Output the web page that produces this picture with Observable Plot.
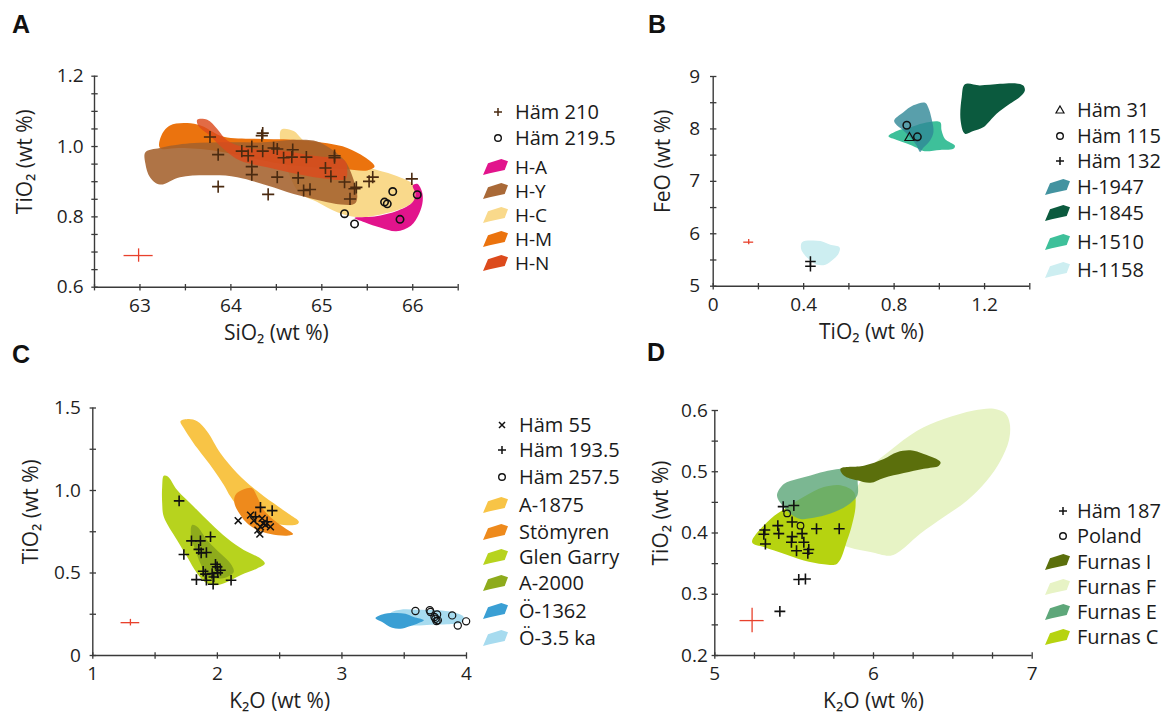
<!DOCTYPE html>
<html><head><meta charset="utf-8">
<script src="https://cdn.jsdelivr.net/npm/d3@7"></script>
<script src="https://cdn.jsdelivr.net/npm/@observablehq/plot@0.6"></script>
<style>
body{margin:0;background:#fff;}
#fig{position:relative;width:1167px;height:718px;font-family:"Open Sans",sans-serif;color:#1a1a1a;overflow:hidden;background:#fff}
.panel{position:absolute}
.letter{position:absolute;font:bold 25px "Liberation Sans",Arial,sans-serif;line-height:24px;color:#111}
.row{position:absolute;height:20px;display:flex;align-items:center;font-size:20px;line-height:20px;white-space:nowrap}
.row.tight{font-size:19px}
.row svg{flex:none}
.row span{display:inline-block;height:20px;line-height:20px;overflow:visible}
</style></head><body><div id="fig"></div>
<script>
// ---------------- DATA ----------------
// Panel A : SiO2 vs TiO2
const hamA210 = [[63.77,1.027],[64.35,1.038],[64.34,1.031],[63.86,0.977],[64.12,0.987],[64.19,0.974],[64.23,1.000],[64.35,0.987],[64.47,0.996],[64.51,0.993],[64.58,0.968],[64.67,0.970],[64.68,0.991],[64.83,0.970],[64.23,0.943],[64.23,0.920],[64.51,0.913],[64.74,0.911],[65.04,0.939],[65.10,0.915],[65.14,0.974],[65.14,0.968],[65.25,0.899],[65.31,0.851],[65.38,0.884],[65.36,0.880],[65.52,0.901],[65.56,0.913],[65.99,0.908],[64.80,0.875],[64.87,0.878],[63.86,0.886],[64.41,0.864]];
const hamA2195 = [[65.25,0.809],[65.36,0.780],[65.69,0.842],[65.72,0.837],[65.78,0.872],[65.86,0.793],[66.05,0.863]];
const fieldHA = [[66.00,0.889],[66.05,0.894],[66.10,0.873],[66.11,0.846],[66.07,0.809],[65.98,0.775],[65.82,0.759],[65.65,0.769],[65.47,0.785],[65.36,0.797],[65.58,0.801],[65.84,0.818],[66.00,0.842],[66.03,0.865]];
const fieldHY = [[63.06,0.984],[63.22,0.996],[63.55,1.009],[63.99,1.012],[64.36,1.012],[64.69,1.019],[64.91,1.017],[65.06,1.000],[65.25,0.960],[65.34,0.913],[65.39,0.856],[65.36,0.837],[65.21,0.835],[64.99,0.846],[64.69,0.865],[64.40,0.889],[64.07,0.913],[63.81,0.918],[63.44,0.913],[63.22,0.892],[63.11,0.913],[63.06,0.951]];
const fieldHC = [[64.55,1.047],[64.69,1.044],[64.80,1.017],[65.13,0.970],[65.50,0.941],[65.80,0.918],[66.02,0.889],[66.05,0.856],[65.91,0.827],[65.65,0.807],[65.39,0.799],[65.17,0.813],[64.95,0.842],[64.73,0.875]];
const fieldHM = [[63.22,0.996],[63.23,1.028],[63.33,1.060],[63.63,1.063],[63.92,1.028],[64.25,1.022],[64.69,1.019],[65.06,1.009],[65.28,0.996],[65.47,0.970],[65.58,0.943],[65.50,0.932],[65.25,0.936],[64.91,0.941],[64.55,0.951],[64.18,0.970],[63.81,0.989],[63.44,0.996]];
const fieldHN = [[63.63,1.076],[63.74,1.076],[63.85,1.050],[63.96,1.017],[64.18,0.996],[64.55,0.989],[64.91,0.974],[65.25,0.960],[65.28,0.932],[65.26,0.908],[65.06,0.908],[64.73,0.922],[64.40,0.941],[64.10,0.960],[63.92,0.993],[63.77,1.031],[63.64,1.060]];
const errA = [[62.985,0.690,0.16,0.019]];
const ticksAx = [63,64,65,66];
const minorAx = [62.5,63,63.5,64,64.5,65,65.5,66,66.5];
const ticksAy = [0.6,0.8,1.0,1.2];
const minorAy = [0.6,0.65,0.7,0.75,0.8,0.85,0.9,0.95,1.0,1.05,1.1,1.15,1.2];

// Panel B : TiO2 vs FeO
const hamB31 = [[0.868,7.83]];
const hamB115 = [[0.856,8.07],[0.903,7.85]];
const hamB132 = [[0.43,5.47],[0.43,5.38]];
const fieldH1947 = [[0.80,8.16],[0.841,8.32],[0.885,8.45],[0.937,8.50],[0.951,8.41],[0.966,8.19],[0.974,7.94],[0.959,7.78],[0.929,7.64],[0.915,7.56],[0.90,7.68],[0.871,7.84],[0.841,7.97],[0.812,8.07]];
const fieldH1845 = [[1.113,8.85],[1.179,8.83],[1.268,8.86],[1.334,8.87],[1.371,8.83],[1.378,8.73],[1.356,8.61],[1.312,8.48],[1.253,8.29],[1.194,8.03],[1.15,7.96],[1.113,7.91],[1.094,8.16],[1.099,8.61]];
const fieldH1510 = [[0.775,7.86],[0.812,7.96],[0.871,8.03],[0.929,8.11],[1.003,8.13],[1.010,7.97],[1.025,7.81],[1.069,7.68],[1.062,7.62],[1.003,7.60],[0.929,7.58],[0.90,7.64],[0.856,7.72],[0.812,7.79]];
const fieldH1158 = [[0.393,5.84],[0.429,5.87],[0.474,5.86],[0.518,5.79],[0.559,5.74],[0.554,5.62],[0.525,5.49],[0.496,5.41],[0.459,5.41],[0.437,5.46],[0.40,5.62],[0.388,5.73]];
const errB = [[0.157,5.84,0.022,0.05]];
const ticksBx = [0,0.4,0.8,1.2];
const minorBx = [0,0.2,0.4,0.6,0.8,1.0,1.2,1.4];
const ticksBy = [5,6,7,8,9];
const minorBy = [5,5.5,6,6.5,7,7.5,8,8.5,9];

// Panel C : K2O vs TiO2
const hamC55 = [[2.167,0.817],[2.266,0.851],[2.292,0.817],[2.359,0.831],[2.386,0.791],[2.346,0.780],[2.426,0.780],[2.341,0.736],[2.367,0.801],[2.325,0.760]];
const hamC1935 = [[1.693,0.937],[1.792,0.695],[1.864,0.695],[1.945,0.720],[1.731,0.612],[1.851,0.643],[1.870,0.622],[1.912,0.624],[1.886,0.511],[1.904,0.493],[1.958,0.497],[1.985,0.553],[1.998,0.537],[2.003,0.501],[1.971,0.476],[1.832,0.460],[1.912,0.456],[1.966,0.432],[2.110,0.456],[2.025,0.517],[2.346,0.898],[2.440,0.878],[2.306,0.841],[2.399,0.811]];
const hamC2575 = [[3.590,0.270],[3.705,0.274],[3.711,0.264],[3.764,0.249],[3.751,0.223],[3.770,0.213],[3.759,0.209],[3.885,0.243],[3.930,0.182],[3.997,0.207],[3.743,0.233]];
const fieldA1875 = [[1.704,1.419],[1.771,1.433],[1.838,1.419],[1.918,1.358],[2.025,1.226],[2.159,1.105],[2.292,1.014],[2.453,0.922],[2.587,0.851],[2.654,0.811],[2.640,0.795],[2.533,0.791],[2.399,0.811],[2.292,0.851],[2.159,0.912],[2.105,0.963],[2.052,1.034],[1.971,1.125],[1.838,1.257],[1.731,1.378]];
const fieldStomyren = [[2.145,0.973],[2.212,1.007],[2.279,1.014],[2.319,0.963],[2.373,0.882],[2.453,0.821],[2.547,0.770],[2.608,0.736],[2.560,0.726],[2.426,0.736],[2.319,0.760],[2.239,0.801],[2.185,0.851],[2.137,0.922]];
const fieldGlenGarry = [[1.570,1.089],[1.602,1.085],[1.677,1.003],[1.811,0.902],[1.945,0.801],[2.078,0.710],[2.212,0.639],[2.346,0.588],[2.381,0.557],[2.319,0.527],[2.185,0.487],[2.078,0.446],[1.985,0.426],[1.918,0.436],[1.838,0.497],[1.757,0.598],[1.677,0.699],[1.570,0.841],[1.557,0.922],[1.557,1.024]];
const fieldA2000 = [[1.797,0.791],[1.838,0.780],[1.918,0.699],[2.025,0.618],[2.105,0.557],[2.132,0.507],[2.078,0.476],[1.998,0.466],[1.918,0.487],[1.864,0.557],[1.824,0.639],[1.789,0.720]];
const fieldO1362 = [[3.269,0.227],[3.323,0.249],[3.416,0.257],[3.510,0.253],[3.577,0.233],[3.657,0.213],[3.604,0.193],[3.537,0.176],[3.470,0.162],[3.403,0.168],[3.323,0.203]];
const fieldO35 = [[3.390,0.257],[3.470,0.278],[3.604,0.278],[3.764,0.274],[3.898,0.262],[3.978,0.233],[3.965,0.203],[3.845,0.189],[3.711,0.186],[3.577,0.182],[3.497,0.193],[3.416,0.213]];
const errC = [[1.302,0.199,0.075,0.02]];
const ticksCx = [1,2,3,4];
const minorCx = [1,1.5,2,2.5,3,3.5,4];
const ticksCy = [0,0.5,1.0,1.5];
const minorCy = [0,0.25,0.5,0.75,1.0,1.25,1.5];

// Panel D : K2O vs TiO2
const hamD187 = [[5.431,0.443],[5.498,0.445],[5.315,0.405],[5.309,0.398],[5.319,0.382],[5.397,0.412],[5.403,0.399],[5.487,0.418],[5.487,0.394],[5.483,0.385],[5.515,0.371],[5.550,0.399],[5.561,0.385],[5.592,0.373],[5.586,0.367],[5.641,0.407],[5.784,0.407],[5.529,0.324],[5.571,0.325],[5.410,0.272]];
const polandD = [[5.456,0.432],[5.540,0.412]];
const fieldFurnasI = [[5.792,0.505],[5.939,0.510],[6.065,0.521],[6.149,0.532],[6.233,0.535],[6.317,0.529],[6.422,0.516],[6.412,0.510],[6.317,0.505],[6.191,0.498],[6.065,0.490],[5.981,0.482],[5.897,0.486],[5.813,0.494]];
const fieldFurnasF = [[5.792,0.399],[5.834,0.442],[5.897,0.475],[5.981,0.507],[6.107,0.535],[6.275,0.567],[6.443,0.586],[6.632,0.600],[6.758,0.603],[6.832,0.595],[6.859,0.578],[6.853,0.551],[6.800,0.518],[6.716,0.486],[6.590,0.453],[6.443,0.426],[6.296,0.399],[6.170,0.371],[6.107,0.363],[5.981,0.369],[5.855,0.376],[5.803,0.382]];
const fieldFurnasE = [[5.393,0.464],[5.435,0.480],[5.519,0.488],[5.603,0.494],[5.687,0.500],[5.792,0.505],[5.887,0.502],[5.901,0.480],[5.897,0.461],[5.834,0.445],[5.750,0.434],[5.645,0.426],[5.540,0.423],[5.477,0.431],[5.435,0.442],[5.397,0.456]];
const fieldFurnasC = [[5.235,0.385],[5.351,0.423],[5.456,0.442],[5.561,0.459],[5.687,0.475],[5.792,0.478],[5.876,0.467],[5.887,0.445],[5.866,0.415],[5.834,0.388],[5.771,0.350],[5.687,0.349],[5.561,0.355],[5.435,0.366],[5.309,0.377]];
const errD = [[5.235,0.257,0.076,0.02]];
const ticksDx = [5,6,7];
const minorDx = [5,5.25,5.5,5.75,6,6.25,6.5,6.75,7];
const ticksDy = [0.2,0.3,0.4,0.5,0.6];
const minorDy = [0.2,0.25,0.3,0.35,0.4,0.45,0.5,0.55,0.6];

// ---------------- STYLE / LAYOUT ----------------
const AX = "#3a3a3a", TXT = "#1f1f1f", RED = "#E8412C";
const vTick = {draw(c){c.moveTo(0,-3.2);c.lineTo(0,3.2);}};
const hTick = {draw(c){c.moveTo(-3.2,0);c.lineTo(3.2,0);}};
const fig = document.getElementById("fig");

function panel(cfg){
  const marks = [];
  for (const s of cfg.fields) {
    marks.push(Plot.line(s.data, {x: d=>d[0], y: d=>d[1], fill: s.color, fillOpacity: s.opacity ?? 1, stroke: "none", curve: "catmull-rom-closed"}));
  }
  marks.push(Plot.ruleY(cfg.err, {y: d=>d[1], x1: d=>d[0]-d[2], x2: d=>d[0]+d[2], stroke: RED, strokeWidth: 1.3}));
  marks.push(Plot.ruleX(cfg.err, {x: d=>d[0], y1: d=>d[1]-d[3], y2: d=>d[1]+d[3], stroke: RED, strokeWidth: 1.3}));
  for (const p of cfg.points) {
    marks.push(Plot.dot(p.data, {x: d=>d[0], y: d=>d[1], symbol: p.symbol, r: p.r, stroke: p.color, strokeWidth: p.sw ?? 1.5, fill: "none"}));
  }
  const x0 = cfg.xDomain[0], y0 = cfg.yDomain[0];
  marks.push(Plot.ruleX([x0], {stroke: AX, strokeWidth: 1.4}));
  marks.push(Plot.ruleY([y0], {stroke: AX, strokeWidth: 1.4}));
  marks.push(Plot.dot(cfg.xMinor, {x: d=>d, y: ()=>y0, symbol: vTick, r: 3, stroke: AX, fill: "none", strokeWidth: 1.3}));
  marks.push(Plot.dot(cfg.yMinor, {y: d=>d, x: ()=>x0, symbol: hTick, r: 3, stroke: AX, fill: "none", strokeWidth: 1.3}));
  marks.push(Plot.axisX(cfg.xTicks, {tickSize: 0, tickPadding: 11, tickFormat: cfg.xFmt, fill: TXT, label: null, fontSize: 19}));
  marks.push(Plot.axisY(cfg.yTicks, {tickSize: 0, tickPadding: cfg.yPad, tickFormat: cfg.yFmt, fill: TXT, label: null, fontSize: 19}));
  marks.push(Plot.text([cfg.xLabel], {text: d=>d, frameAnchor: "bottom", lineAnchor: "middle", textAnchor: "middle", dy: 46, fontSize: 21, fill: TXT}));
  marks.push(Plot.text([cfg.yLabel], {text: d=>d, frameAnchor: "left", lineAnchor: "middle", textAnchor: "middle", dx: cfg.yLabelDx, dy: -20, rotate: -90, fontSize: 21, fill: TXT}));
  const svg = Plot.plot({
    width: cfg.w, height: cfg.h,
    marginLeft: cfg.m[0], marginRight: cfg.m[1], marginTop: cfg.m[2], marginBottom: cfg.m[3],
    x: {domain: cfg.xDomain}, y: {domain: cfg.yDomain},
    style: {fontFamily: '"Open Sans", sans-serif', fontSize: "19px", color: TXT, background: "none", overflow: "visible"},
    marks
  });
  svg.classList.add("panel");
  svg.style.left = cfg.left + "px"; svg.style.top = cfg.top + "px";
  fig.appendChild(svg);
}

function symbolSvg(kind, color, w, cx){
  const cy = 10;
  let inner = "";
  if (kind === "plus") inner = `<path d="M${cx-4},${cy}H${cx+4}M${cx},${cy-4}V${cy+4}" stroke="${color}" stroke-width="1.5" fill="none"/>`;
  else if (kind === "times") inner = `<path d="M${cx-3},${cy-3}L${cx+3},${cy+3}M${cx-3},${cy+3}L${cx+3},${cy-3}" stroke="${color}" stroke-width="1.5" fill="none"/>`;
  else if (kind === "circle") inner = `<circle cx="${cx}" cy="${cy}" r="3.3" stroke="${color}" stroke-width="1.4" fill="none"/>`;
  else if (kind === "triangle") inner = `<path d="M${cx},${cy-4}L${cx+4},${cy+3}L${cx-4},${cy+3}Z" stroke="${color}" stroke-width="1.2" fill="none"/>`;
  return `<svg width="${w}" height="20">${inner}</svg>`;
}
function swatchSvg(color, opacity, w){
  return `<svg width="${w}" height="20"><path d="M0,18 L5,6.3 L18.3,2 L25,4.3 L21.7,13 L6.7,16.3 Z" fill="${color}" fill-opacity="${opacity ?? 1}"/></svg>`;
}
function legend(left, textLeft, symX, rows, cls){
  for (const r of rows) {
    const div = document.createElement("div");
    div.className = "row" + (cls ? " " + cls : "");
    div.style.left = left + "px"; div.style.top = (r.y - 10) + "px";
    const w = textLeft - left;
    div.innerHTML = (r.symbol ? symbolSvg(r.symbol, r.color, w, symX - left) : swatchSvg(r.color, r.opacity, w)) + `<span>${r.label}</span>`;
    fig.appendChild(div);
  }
}
function letter(t, x, y){
  const d = document.createElement("div"); d.className = "letter"; d.textContent = t;
  d.style.left = x + "px"; d.style.top = y + "px"; fig.appendChild(d);
}

const f1 = d => d.toFixed(1);
const fInt = d => String(d);
const fB = d => d === 0 ? "0" : String(d);
const fC = d => d === 0 ? "0" : d.toFixed(1);

// Panel A
const colA = {"H-A": "#E2148C", "H-Y": "#A4612C", "H-C": "#F9D98B", "H-M": "#EB730E", "H-N": "#DC4A1C"};
panel({left: 0, top: 40, w: 480, h: 310, m: [94, 22.3, 35.7, 63.3],
  xDomain: [62.5, 66.5], yDomain: [0.6, 1.2],
  xTicks: ticksAx, xMinor: minorAx, yTicks: ticksAy, yMinor: minorAy, xFmt: fInt, yFmt: f1, yPad: 11,
  xLabel: "SiO₂ (wt %)", yLabel: "TiO₂ (wt %)", yLabelDx: -69,
  fields: [
    {data: fieldHC, color: colA["H-C"]},
    {data: fieldHA, color: colA["H-A"]},
    {data: fieldHM, color: colA["H-M"]},
    {data: fieldHY, color: colA["H-Y"], opacity: 0.88},
    {data: fieldHN, color: colA["H-N"], opacity: 0.82}
  ],
  err: errA,
  points: [
    {data: hamA210, symbol: "plus", r: 4.0, color: "#4A2A10", sw: 1.6},
    {data: hamA2195, symbol: "circle", r: 3.7, color: "#111", sw: 1.6}
  ]
});
legend(483, 515, 498, [
  {label: "Häm 210", symbol: "plus", color: "#4A2A10", y: 112},
  {label: "Häm 219.5", symbol: "circle", color: "#111", y: 138}
]);
legend(483, 515, 498, [
  {label: "H-A", color: colA["H-A"], y: 167},
  {label: "H-Y", color: colA["H-Y"], opacity: 0.95, y: 191},
  {label: "H-C", color: colA["H-C"], y: 215},
  {label: "H-M", color: colA["H-M"], y: 239},
  {label: "H-N", color: colA["H-N"], y: 263}
], "tight");

// Panel B
const colB = {"H-1947": "#2F8796", "H-1845": "#0B5A3E", "H-1510": "#3EC09A", "H-1158": "#CDEEF1"};
panel({left: 620, top: 40, w: 430, h: 310, m: [92.7, 20.7, 36, 64.3],
  xDomain: [0, 1.4], yDomain: [5, 9],
  xTicks: ticksBx, xMinor: minorBx, yTicks: ticksBy, yMinor: minorBy, xFmt: fB, yFmt: fInt, yPad: 13,
  xLabel: "TiO₂ (wt %)", yLabel: "FeO (wt %)", yLabelDx: -50,
  fields: [
    {data: fieldH1158, color: colB["H-1158"]},
    {data: fieldH1845, color: colB["H-1845"]},
    {data: fieldH1510, color: colB["H-1510"]},
    {data: fieldH1947, color: colB["H-1947"], opacity: 0.8}
  ],
  err: errB,
  points: [
    {data: hamB31, symbol: "triangle", r: 3.4, color: "#111", sw: 1.2},
    {data: hamB115, symbol: "circle", r: 3.7, color: "#111", sw: 1.5},
    {data: hamB132, symbol: "plus", r: 3.5, color: "#111", sw: 1.5}
  ]
});
legend(1045, 1077, 1060, [
  {label: "Häm 31", symbol: "triangle", color: "#111", y: 110},
  {label: "Häm 115", symbol: "circle", color: "#111", y: 135.5},
  {label: "Häm 132", symbol: "plus", color: "#111", y: 161},
  {label: "H-1947", color: colB["H-1947"], opacity: 0.9, y: 187},
  {label: "H-1845", color: colB["H-1845"], y: 213},
  {label: "H-1510", color: colB["H-1510"], y: 242},
  {label: "H-1158", color: colB["H-1158"], y: 270}
]);

// Panel C
const colC = {"A-1875": "#F8C446", "Stömyren": "#EE8A1C", "Glen Garry": "#B7D31E", "A-2000": "#8EAB1C", "Ö-1362": "#3A9FD4", "Ö-3.5 ka": "#A7DBEF"};
panel({left: 0, top: 370, w: 480, h: 348, m: [92.3, 14, 37.5, 63],
  xDomain: [1, 4], yDomain: [0, 1.5],
  xTicks: ticksCx, xMinor: minorCx, yTicks: ticksCy, yMinor: minorCy, xFmt: fInt, yFmt: fC, yPad: 12,
  xLabel: "K₂O (wt %)", yLabel: "TiO₂ (wt %)", yLabelDx: -62,
  fields: [
    {data: fieldA1875, color: colC["A-1875"]},
    {data: fieldStomyren, color: colC["Stömyren"]},
    {data: fieldGlenGarry, color: colC["Glen Garry"]},
    {data: fieldA2000, color: colC["A-2000"]},
    {data: fieldO35, color: colC["Ö-3.5 ka"]},
    {data: fieldO1362, color: colC["Ö-1362"]}
  ],
  err: errC,
  points: [
    {data: hamC55, symbol: "times", r: 3.2, color: "#111", sw: 1.5},
    {data: hamC1935, symbol: "plus", r: 3.5, color: "#111", sw: 1.6},
    {data: hamC2575, symbol: "circle", r: 3.6, color: "#111", sw: 1.2}
  ]
});
legend(483, 519, 502, [
  {label: "Häm 55", symbol: "times", color: "#111", y: 425},
  {label: "Häm 193.5", symbol: "plus", color: "#111", y: 450},
  {label: "Häm 257.5", symbol: "circle", color: "#111", y: 477},
  {label: "A-1875", color: colC["A-1875"], y: 505},
  {label: "Stömyren", color: colC["Stömyren"], y: 532},
  {label: "Glen Garry", color: colC["Glen Garry"], y: 557},
  {label: "A-2000", color: colC["A-2000"], y: 583},
  {label: "Ö-1362", color: colC["Ö-1362"], y: 611},
  {label: "Ö-3.5 ka", color: colC["Ö-3.5 ka"], y: 638}
]);

// Panel D
const colD = {"Furnas I": "#5B6F0C", "Furnas F": "#E7F3C5", "Furnas E": "#5EA77A", "Furnas C": "#B6D310"};
panel({left: 620, top: 370, w: 430, h: 348, m: [94.3, 18.3, 40, 63],
  xDomain: [5, 7], yDomain: [0.2, 0.6],
  xTicks: ticksDx, xMinor: minorDx, yTicks: ticksDy, yMinor: minorDy, xFmt: fInt, yFmt: f1, yPad: 7,
  xLabel: "K₂O (wt %)", yLabel: "TiO₂ (wt %)", yLabelDx: -54,
  fields: [
    {data: fieldFurnasF, color: colD["Furnas F"]},
    {data: fieldFurnasC, color: colD["Furnas C"]},
    {data: fieldFurnasE, color: colD["Furnas E"], opacity: 0.82},
    {data: fieldFurnasI, color: colD["Furnas I"]}
  ],
  err: errD,
  points: [
    {data: hamD187, symbol: "plus", r: 3.6, color: "#111", sw: 1.6},
    {data: polandD, symbol: "circle", r: 3.3, color: "#111", sw: 1.2}
  ]
});
legend(1045, 1077, 1063, [
  {label: "Häm 187", symbol: "plus", color: "#111", y: 510.5},
  {label: "Poland", symbol: "circle", color: "#111", y: 536},
  {label: "Furnas I", color: colD["Furnas I"], y: 562},
  {label: "Furnas F", color: colD["Furnas F"], y: 587},
  {label: "Furnas E", color: colD["Furnas E"], y: 612},
  {label: "Furnas C", color: colD["Furnas C"], y: 637}
]);

letter("A", 12, 12); letter("B", 648, 12); letter("C", 12, 342); letter("D", 647, 340);
</script></body></html>
